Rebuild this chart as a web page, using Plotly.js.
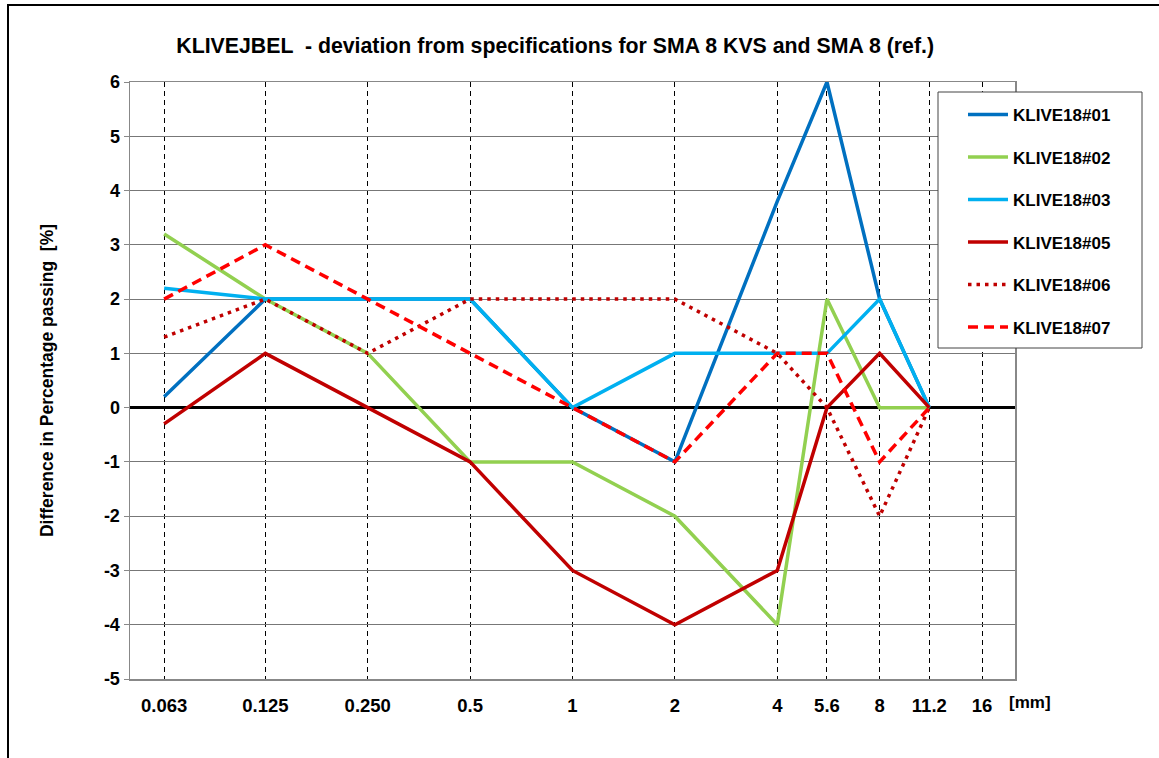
<!DOCTYPE html>
<html>
<head>
<meta charset="utf-8">
<script src="https://cdn.plot.ly/plotly-3.0.1.min.js"></script>
<style>
  html, body { margin: 0; padding: 0; background: #fff; }
  #wrap { position: relative; width: 1159px; height: 758px; }
  #chart { position: absolute; left: 0; top: 0; width: 1159px; height: 758px; }
  #frame { position: absolute; left: 7px; top: 4px; width: 1152px; height: 754px;
           border-top: 2px solid #000; border-left: 2px solid #000; pointer-events: none; }
</style>
</head>
<body>
<div id="wrap">
  <div id="chart"></div>
  <div id="frame"></div>
</div>
<script>
const sieveSizes = [0.063, 0.125, 0.25, 0.5, 1, 2, 4, 5.6, 8, 11.2];
const tickValues = [0.063, 0.125, 0.25, 0.5, 1, 2, 4, 5.6, 8, 11.2, 16];
const tickLabels = ["0.063", "0.125", "0.250", "0.5", "1", "2", "4", "5.6", "8", "11.2", "16"];
const yTickValues = [-5, -4, -3, -2, -1, 0, 1, 2, 3, 4, 5, 6];
const yTickLabels = ["-5", "-4", "-3", "-2", "-1", "0", "1", "2", "3", "4", "5", "6"];

const klive01 = [0.2, 2, 2, 2, 0, -1, 3.8, 6, 2, 0];
const klive02 = [3.2, 2, 1, -1, -1, -2, -4, 2, 0, 0];
const klive03 = [2.2, 2, 2, 2, 0, 1, 1, 1, 2, 0];
const klive05 = [-0.3, 1, 0, -1, -3, -4, -3, 0, 1, 0];
const klive06 = [1.3, 2, 1, 2, 2, 2, 1, 0, -2, 0];
const klive07 = [2, 3, 2, 1, 0, -1, 1, 1, -1, 0];

const seriesNames = ["KLIVE18#01", "KLIVE18#02", "KLIVE18#03", "KLIVE18#05", "KLIVE18#06", "KLIVE18#07"];
const seriesValues = [klive01, klive02, klive03, klive05, klive06, klive07];
const seriesColors = ["#0070C0", "#92D050", "#00B0F0", "#C00000", "#C00000", "#FF0000"];
const seriesDash = ["solid", "solid", "solid", "solid", "3.5px,5px", "10px,6px"];

const FONT = "Liberation Sans, Arial, sans-serif";

const traces = seriesNames.map((name, i) => ({
  type: "scatter",
  mode: "lines",
  name: name,
  legendgroup: "g" + i,
  x: sieveSizes,
  y: seriesValues[i],
  line: { color: seriesColors[i], width: 3.5, dash: seriesDash[i] }
}));

const layout = {
  width: 1159,
  height: 758,
  margin: { l: 130, r: 144, t: 82, b: 79 },
  paper_bgcolor: "rgba(0,0,0,0)",
  plot_bgcolor: "#fff",
  font: { family: FONT, size: 14, color: "#000" },
  title: {
    text: "<b>KLIVEJBEL  - deviation from specifications for SMA 8 KVS and SMA 8 (ref.)</b>",
    font: { family: FONT, size: 21.3, color: "#000" },
    x: 0.479, xref: "container", xanchor: "center",
    y: 0.94, yref: "container", yanchor: "middle"
  },
  xaxis: {
    type: "log",
    range: [Math.log10(0.05), Math.log10(20)],
    tickmode: "array",
    tickvals: tickValues,
    ticktext: tickLabels.map(t => "<b>" + t + "</b>"),
    tickfont: { family: FONT, size: 18.5, color: "#000" },
    ticks: "",
    ticklabelstandoff: 9,
    showgrid: true,
    gridcolor: "#000",
    gridwidth: 1,
    griddash: "5px,4px",
    showline: true,
    linecolor: "#888",
    linewidth: 1.5,
    mirror: true,
    zeroline: false,
    fixedrange: true
  },
  yaxis: {
    range: [-5, 6],
    tickmode: "array",
    tickvals: yTickValues,
    ticktext: yTickLabels.map(t => "<b>" + t + "</b>"),
    tickfont: { family: FONT, size: 18, color: "#000" },
    ticks: "outside",
    ticklen: 5,
    tickcolor: "#888",
    showgrid: true,
    gridcolor: "#777",
    gridwidth: 1,
    zeroline: true,
    zerolinecolor: "#000",
    zerolinewidth: 2.5,
    showline: true,
    linecolor: "#888",
    linewidth: 1.5,
    mirror: true,
    title: {
      text: "<b>Difference in Percentage passing  [%]</b>",
      font: { family: FONT, size: 17.5, color: "#000" },
      standoff: 46
    },
    fixedrange: true
  },
  shapes: [{
    type: "rect",
    xref: "paper", yref: "paper",
    x0: (938 - 130) / 885, x1: (1142 - 130) / 885,
    y0: (679 - 348) / 597, y1: (679 - 92) / 597,
    line: { color: "#444", width: 1 },
    fillcolor: "#fff",
    layer: "above"
  }],
  legend: {
    x: (963 - 130) / 885, xref: "paper", xanchor: "left",
    y: (679 - 97) / 597, yref: "paper", yanchor: "top",
    bgcolor: "rgba(0,0,0,0)",
    borderwidth: 0,
    font: { family: FONT, size: 17, color: "#000", weight: "bold" },
    tracegroupgap: 17.4,
    itemwidth: 40
  },
  annotations: [{
    text: "<b>[mm]</b>",
    xref: "paper", yref: "paper",
    x: 1.0, y: 0, xanchor: "left", yanchor: "top",
    xshift: -8, yshift: -12,
    showarrow: false,
    font: { family: FONT, size: 17, color: "#000" }
  }],
  showlegend: true
};

Plotly.newPlot("chart", traces, layout, { displayModeBar: false, staticPlot: true });
</script>
</body>
</html>
